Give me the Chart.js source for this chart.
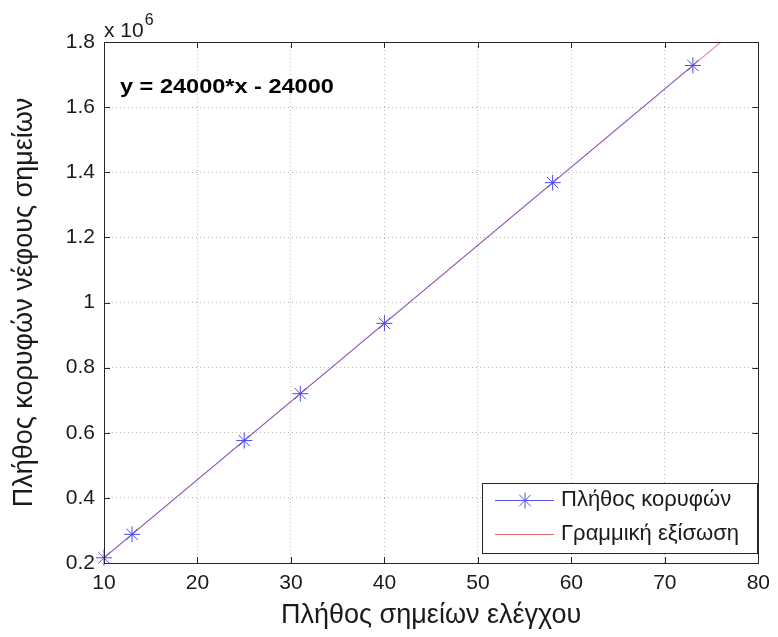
<!DOCTYPE html>
<html>
<head>
<meta charset="utf-8">
<script src="https://cdn.jsdelivr.net/npm/chart.js@4.4.1/dist/chart.umd.min.js"></script>
<style>
  body { margin: 0; background: #fff; }
  #wrap { width: 778px; height: 637px; }
</style>
</head>
<body>
<div id="wrap"><canvas id="chart" width="778" height="637"></canvas></div>
<script>
// control points (x) and cloud vertex counts (y)
const controlPoints = [10, 13, 25, 31, 40, 58, 73];
const vertexCounts = [216000, 288000, 576000, 720000, 936000, 1368000, 1728000];
// fitted line y = 24000*x - 24000, end points
const fitX = [10, 76];
const fitY = [216000, 1800000];

const seriesNames = ["Πλήθος κορυφών", "Γραμμική εξίσωση"];
const xTitle = "Πλήθος σημείων ελέγχου";
const yTitle = "Πλήθος κορυφών νέφους σημείων";
const equation = "y = 24000*x - 24000";

const FONT = "'Liberation Sans', Arial, sans-serif";
const TXT = "#1a1a1a";

//MATLAB style frame, inward ticks, exponent, equation and legend
const matlabBits = {
  id: "matlabBits",
  afterDatasetsDraw(chart) {
    const { ctx, chartArea: a, scales } = chart;
    ctx.save();
    ctx.strokeStyle = "#262626";
    ctx.lineWidth = 1;
    ctx.setLineDash([]);
    const t = 6;
    ctx.beginPath();
    scales.x.ticks.forEach((tk) => {
      const px = Math.round(scales.x.getPixelForValue(tk.value)) + 0.5;
      ctx.moveTo(px, a.bottom); ctx.lineTo(px, a.bottom - t);
      ctx.moveTo(px, a.top); ctx.lineTo(px, a.top + t);
    });
    scales.y.ticks.forEach((tk) => {
      const py = Math.round(scales.y.getPixelForValue(tk.value)) + 0.5;
      ctx.moveTo(a.left, py); ctx.lineTo(a.left + t, py);
      ctx.moveTo(a.right, py); ctx.lineTo(a.right - t, py);
    });
    ctx.stroke();
    ctx.strokeRect(Math.round(a.left) + 0.5, Math.round(a.top) + 0.5,
      Math.round(a.right - a.left), Math.round(a.bottom - a.top));

    // exponent label
    ctx.fillStyle = TXT;
    ctx.textBaseline = "alphabetic";
    ctx.textAlign = "left";
    ctx.font = "21px " + FONT;
    ctx.fillText("x 10", a.left, a.top - 5);
    const w = ctx.measureText("x 10").width;
    ctx.font = "16px " + FONT;
    ctx.fillText("6", a.left + w + 1, a.top - 17);

    // equation (slightly wide, like the original raster)
    ctx.save();
    ctx.translate(a.left + 16, a.top + 51);
    ctx.scale(1.12, 1);
    ctx.font = "bold 21px " + FONT;
    ctx.fillStyle = "#000";
    ctx.fillText(equation, 0, 0);
    ctx.restore();

    // legend
    const lx = 482, ly = 483, lw = 275, lh = 70;
    ctx.fillStyle = "#fff";
    ctx.fillRect(lx, ly, lw, lh);
    ctx.strokeStyle = "#262626";
    ctx.strokeRect(lx + 0.5, ly + 0.5, lw, lh);
    const rows = [ly + 17, ly + 51];
    ctx.lineWidth = 1;
    ctx.strokeStyle = "#5555e0";
    ctx.beginPath();
    ctx.moveTo(lx + 13, rows[0] + 0.5); ctx.lineTo(lx + 72, rows[0] + 0.5);
    ctx.stroke();
    Chart.helpers.drawPoint(ctx, { pointStyle: "star", radius: 8, borderWidth: 1 }, lx + 43, rows[0] + 0.5);
    ctx.strokeStyle = "#e07070";
    ctx.beginPath();
    ctx.moveTo(lx + 13, rows[1] + 0.5); ctx.lineTo(lx + 72, rows[1] + 0.5);
    ctx.stroke();
    ctx.fillStyle = TXT;
    ctx.font = "22px " + FONT;
    ctx.textBaseline = "middle";
    ctx.fillText(seriesNames[0], lx + 79, rows[0]);
    ctx.fillText(seriesNames[1], lx + 79, rows[1]);
    ctx.restore();
  },
};

new Chart(document.getElementById("chart"), {
  type: "scatter",
  plugins: [matlabBits],
  data: {
    datasets: [
      {
        label: seriesNames[0],
        data: controlPoints.map((x, i) => ({ x: x, y: vertexCounts[i] })),
        showLine: true,
        borderColor: "#7a5ad0",
        backgroundColor: "#5050e0",
        borderWidth: 1,
        pointStyle: "star",
        pointRadius: 8,
        pointBorderColor: "#4a4ae8",
        pointBorderWidth: 1,
        clip: false,
      },
      {
        label: seriesNames[1],
        data: fitX.map((x, i) => ({ x: x, y: fitY[i] })),
        showLine: true,
        borderColor: "rgba(200,100,130,0.6)",
        borderWidth: 1.5,
        pointRadius: 0,
        clip: false,
      },
    ],
  },
  options: {
    responsive: false,
    animation: false,
    layout: { padding: { top: 42, right: 16, left: 0, bottom: 0 } },
    plugins: { legend: { display: false }, tooltip: { enabled: false } },
    scales: {
      x: {
        type: "linear",
        min: 10,
        max: 80,
        ticks: { stepSize: 10, color: TXT, font: { family: FONT, size: 21 }, padding: 8, maxRotation: 0 },
        grid: { color: "#b8b8b8", drawTicks: false },
        border: { display: false, dash: [1, 3] },
        title: { display: true, text: xTitle, color: TXT, font: { family: FONT, size: 27 }, padding: { bottom: 5 } },
        afterFit: (s) => { s.height = 74; },
      },
      y: {
        min: 200000,
        max: 1800000,
        ticks: {
          stepSize: 200000,
          color: TXT,
          font: { family: FONT, size: 21 },
          padding: 9,
          callback: (v) => String(Number((v / 1e6).toFixed(1))),
        },
        grid: { color: "#b8b8b8", drawTicks: false },
        border: { display: false, dash: [1, 3] },
        title: { display: true, text: yTitle, color: TXT, font: { family: FONT, size: 27 }, padding: { top: 8 } },
        afterFit: (s) => { s.width = 104; },
      },
    },
  },
});
</script>
</body>
</html>
